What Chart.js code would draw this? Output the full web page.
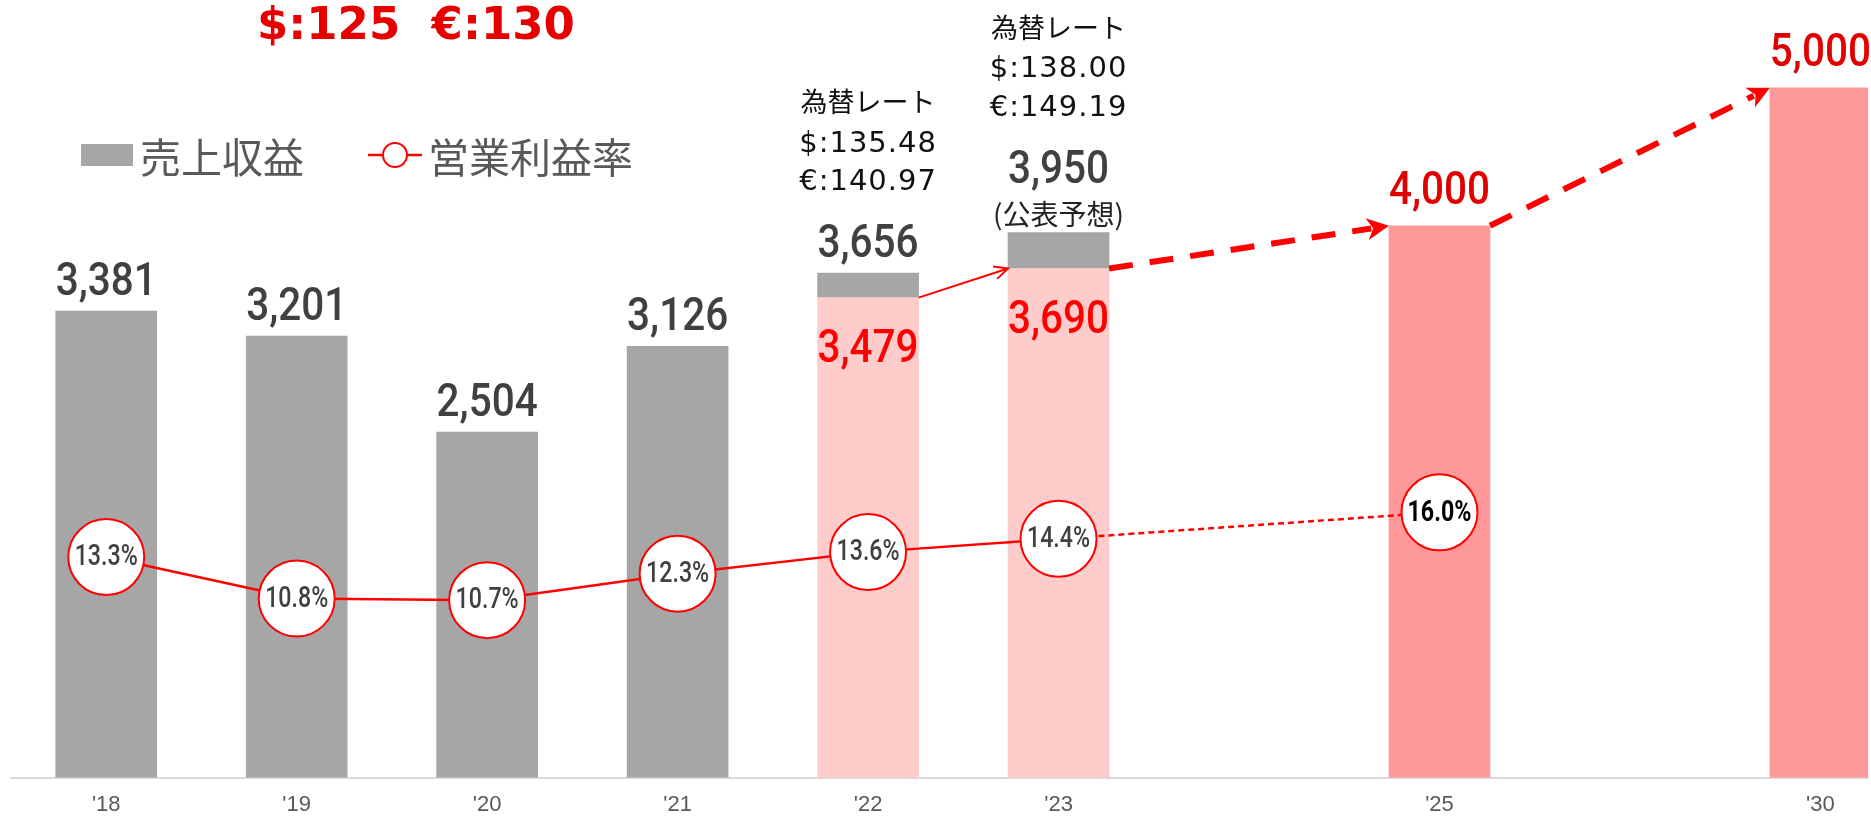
<!DOCTYPE html>
<html><head><meta charset="utf-8">
<script src="https://cdn.jsdelivr.net/npm/chart.js@4"></script>
<style>html,body{margin:0;padding:0;background:#fff;overflow:hidden}</style>
</head><body>
<canvas id="c" width="1871" height="818"></canvas>
<script>
// ---- data ----
const categories = ["'18","'19","'20","'21","'22","'23","","'25","","'30"];
const revenue = [3381,3201,2504,3126,3656,3950,null,null,null,null];
const revenueFixedRate = [null,null,null,null,3479,3690,null,4000,null,5000];
const operatingMargin = [13.3,10.8,10.7,12.3,13.6,14.4,null,16.0,null,null];
const fxRates = [null,null,null,null,["為替レート","$:135.48","€:140.97"],["為替レート","$:138.00","€:149.19"],null,null,null,null];
const forecastNote = [null,null,null,null,null,"(公表予想)",null,null,null,null];
const baseRateLabel = "$:125  €:130";
const seriesNames = ["売上収益","営業利益率","売上収益（$125・€130換算）"];

// ---- derived datasets ----
const pinkData = categories.map((_, i) => revenueFixedRate[i] == null ? null : {x: i, y: revenueFixedRate[i]}).filter(Boolean);
const grayData = categories.map((_, i) => revenue[i] == null ? null : {x: i, y: revenue[i] - (revenueFixedRate[i] ?? 0)}).filter(Boolean);
const lineData = categories.map((_, i) => operatingMargin[i] == null ? null : {x: i, y: operatingMargin[i]}).filter(Boolean);

const fmt = v => v.toLocaleString('en-US');

function drawText(ctx, text, x, y, o) {
  ctx.save();
  ctx.font = o.font; ctx.fillStyle = o.color || '#000';
  ctx.textAlign = o.align || 'center'; ctx.textBaseline = o.baseline || 'alphabetic';
  if ('letterSpacing' in ctx) ctx.letterSpacing = o.spacing || '0px';
  ctx.translate(x, y); ctx.scale(o.sx || 1, 1);
  ctx.fillText(text, 0, 0);
  ctx.restore();
}

function arrowHeadOpen(ctx, x, y, ang, len, spread) {
  ctx.beginPath();
  ctx.moveTo(x - len * Math.cos(ang - spread), y - len * Math.sin(ang - spread));
  ctx.lineTo(x, y);
  ctx.lineTo(x - len * Math.cos(ang + spread), y - len * Math.sin(ang + spread));
  ctx.stroke();
}
function arrowHeadFilled(ctx, x, y, ang, len, half, notch) {
  const c = Math.cos(ang), s = Math.sin(ang);
  const bx = x - len * c, by = y - len * s;
  ctx.beginPath();
  ctx.moveTo(x, y);
  ctx.lineTo(bx - half * s, by + half * c);
  ctx.lineTo(x - (len - notch) * c, y - (len - notch) * s);
  ctx.lineTo(bx + half * s, by - half * c);
  ctx.closePath();
  ctx.fill();
}

const RED = '#FF0000';
const VAL_FONT = '500 46px Roboto';
const VAL_SX = 0.88;

const annotate = {
  id: 'annotate',
  afterDatasetsDraw(chart) {
    const ctx = chart.ctx;
    const pinkMeta = chart.getDatasetMeta(0);
    const grayMeta = chart.getDatasetMeta(1);
    const lineMeta = chart.getDatasetMeta(2);
    const pinkEls = {}, grayEls = {};
    pinkMeta.data.forEach((el, k) => pinkEls[pinkData[k].x] = el);
    grayMeta.data.forEach((el, k) => grayEls[grayData[k].x] = el);

    // arrows between fixed-rate bars
    for (let k = 1; k < pinkData.length; k++) {
      const a = pinkEls[pinkData[k - 1].x], b = pinkEls[pinkData[k].x];
      const x0 = a.x + a.width / 2, y0 = a.y;
      const x1 = b.x - b.width / 2, y1 = b.y;
      const ang = Math.atan2(y1 - y0, x1 - x0);
      ctx.save();
      ctx.strokeStyle = RED; ctx.fillStyle = RED;
      if (revenue[pinkData[k].x] != null) {
        ctx.lineWidth = 2;
        ctx.beginPath(); ctx.moveTo(x0, y0); ctx.lineTo(x1, y1); ctx.stroke();
        arrowHeadOpen(ctx, x1, y1, ang, 15, 0.45);
      } else {
        const len = 22;
        const ex = x1 - (len - 4) * Math.cos(ang), ey = y1 - (len - 4) * Math.sin(ang);
        ctx.lineWidth = 6;
        ctx.setLineDash([24, 17]);
        ctx.beginPath(); ctx.moveTo(x0, y0); ctx.lineTo(ex, ey); ctx.stroke();
        ctx.setLineDash([]);
        arrowHeadFilled(ctx, x1, y1, ang, len, 11, 6);
      }
      ctx.restore();
    }

    // revenue labels (gray)
    Object.keys(grayEls).forEach(key => {
      const i = +key, el = grayEls[i];
      let base = el.y - 16;
      if (forecastNote[i]) {
        drawText(ctx, forecastNote[i], el.x, el.y - 8, {font: '400 28px "Noto Sans CJK JP"', color: '#222'});
        base = el.y - 50;
      }
      drawText(ctx, fmt(revenue[i]), el.x, base, {font: VAL_FONT, color: '#404040', sx: VAL_SX});
      if (fxRates[i]) {
        const eu = base - 33 - 34, us = eu - 38.5, jp = us - 39.5;
        drawText(ctx, fxRates[i][0], el.x, jp, {font: '400 27px "Noto Sans CJK JP"', color: '#111'});
        drawText(ctx, fxRates[i][1], el.x, us, {font: '400 29px "DejaVu Sans"', color: '#111', spacing: '1px'});
        drawText(ctx, fxRates[i][2], el.x, eu, {font: '400 29px "DejaVu Sans"', color: '#111', spacing: '1px'});
      }
    });

    // fixed-rate labels (red)
    Object.keys(pinkEls).forEach(key => {
      const i = +key, el = pinkEls[i];
      if (revenue[i] != null) {
        drawText(ctx, fmt(revenueFixedRate[i]), el.x, el.y + 64, {font: VAL_FONT, color: RED, sx: VAL_SX});
      } else {
        drawText(ctx, fmt(revenueFixedRate[i]), el.x, el.y - 22, {font: VAL_FONT, color: '#E00000', sx: VAL_SX});
      }
    });

    // margin labels inside circles
    lineMeta.data.forEach((pt, k) => {
      const i = lineData[k].x;
      const forecast = revenue[i] == null;
      drawText(ctx, operatingMargin[i].toFixed(1) + '%', pt.x, pt.y + 1,
        {font: (forecast ? '700' : '500') + ' 29px Roboto', color: forecast ? '#000' : '#404040', sx: 0.8, baseline: 'middle'});
    });
  },
  afterDraw(chart) {
    const ctx = chart.ctx;
    // base exchange-rate title
    drawText(ctx, baseRateLabel, 257, 38.5, {font: 'bold 45px "DejaVu Sans"', color: '#E60000', align: 'left'});
    // legend
    ctx.save();
    ctx.fillStyle = '#A6A6A6';
    ctx.fillRect(81, 144, 52, 22);
    ctx.restore();
    drawText(ctx, seriesNames[0], 140, 157, {font: '400 41px "Noto Sans CJK JP"', color: '#595959', align: 'left', baseline: 'middle'});
    ctx.save();
    ctx.strokeStyle = RED; ctx.lineWidth = 2.5;
    ctx.beginPath(); ctx.moveTo(368, 155); ctx.lineTo(422, 155); ctx.stroke();
    ctx.fillStyle = '#fff'; ctx.lineWidth = 2;
    ctx.beginPath(); ctx.arc(395, 155, 12, 0, Math.PI * 2); ctx.fill(); ctx.stroke();
    ctx.restore();
    drawText(ctx, seriesNames[1], 428, 157, {font: '400 41px "Noto Sans CJK JP"', color: '#595959', align: 'left', baseline: 'middle'});
  }
};

function build() {
  new Chart(document.getElementById('c'), {
    type: 'bar',
    data: {
      datasets: [
        {
          label: seriesNames[2], data: pinkData, stack: 'rev', order: 1,
          backgroundColor: c => (c.raw && revenue[c.raw.x] != null) ? '#FFCCCC' : '#FF9999',
          barThickness: 101, borderWidth: 0
        },
        {
          label: seriesNames[0], data: grayData, stack: 'rev', order: 1,
          backgroundColor: '#A6A6A6', barThickness: 101, borderWidth: 0
        },
        {
          type: 'line', label: seriesNames[1], data: lineData, yAxisID: 'y1', order: 0,
          borderColor: RED, borderWidth: 2.5, pointRadius: 38, pointBorderWidth: 2,
          pointBackgroundColor: '#fff', pointBorderColor: RED, clip: false, tension: 0,
          segment: { borderDash: c => revenue[lineData[c.p1DataIndex].x] == null ? [6, 4] : undefined }
        }
      ]
    },
    options: {
      responsive: false, devicePixelRatio: 1, animation: false, events: [],
      layout: { autoPadding: false, padding: { left: 11, right: 3, top: 5, bottom: 0 } },
      plugins: { legend: { display: false }, tooltip: { enabled: false } },
      scales: {
        x: {
          type: 'linear', min: -0.5, max: 9.25, offset: false,
          grid: { display: false, drawTicks: false },
          border: { display: true, color: '#D9D9D9', width: 2 },
          afterBuildTicks: s => { s.ticks = categories.map((_, i) => ({ value: i })); },
          afterFit: s => { s.height = 40.4; },
          ticks: {
            autoSkip: false, maxRotation: 0, padding: 14,
            font: { family: '"Liberation Sans", Arial, sans-serif', size: 22 }, color: '#595959',
            callback: v => categories[v] ?? ''
          }
        },
        y: { display: false, min: 0, max: 5600 },
        y1: { display: false, min: 0, max: 46.6, position: 'right' }
      }
    },
    plugins: [annotate]
  });
}

Promise.all([
  document.fonts.load('500 46px Roboto'),
  document.fonts.load('700 29px Roboto'),
  document.fonts.load('400 28px "Noto Sans CJK JP"', '為替レート公表予想売上収益営業利率'),
  document.fonts.load('400 28px "DejaVu Sans"'),
  document.fonts.load('bold 45px "DejaVu Sans"')
]).catch(() => {}).then(build);
</script>
</body></html>
